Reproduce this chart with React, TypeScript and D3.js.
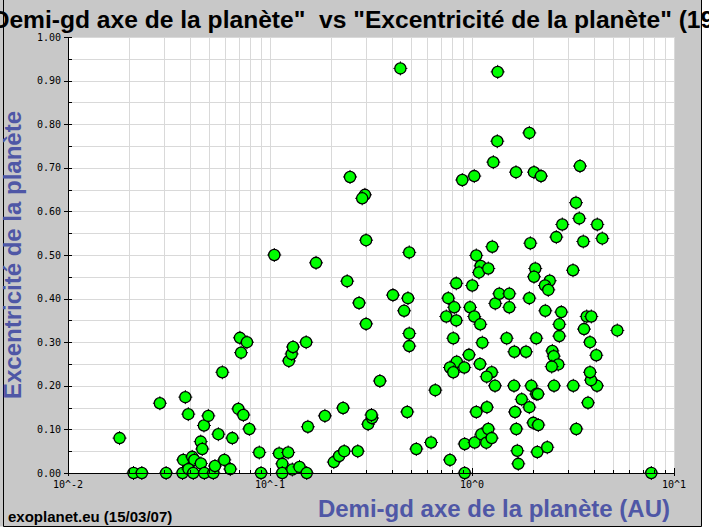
import React from 'react';
import * as d3 from 'd3';

// Semi-major axis (AU) and eccentricity
const semiMajorAxis = [
  0.0180, 0.0211, 0.0232, 0.0285, 0.0306, 0.0381, 0.0394, 0.0372, 0.0369, 0.0412,
  0.0422, 0.0395, 0.0417, 0.0455, 0.0454, 0.0462, 0.0471, 0.0473, 0.0495, 0.0524,
  0.0534, 0.0555, 0.0581, 0.0594, 0.0636, 0.0651, 0.0697, 0.0738, 0.0710, 0.0719,
  0.0769, 0.0790, 0.0885, 0.0903, 0.105, 0.111, 0.115, 0.115, 0.123, 0.129,
  0.140, 0.152, 0.124, 0.128, 0.130, 0.151, 0.169, 0.154, 0.187, 0.207,
  0.220, 0.233, 0.272, 0.230, 0.249, 0.241, 0.276, 0.295, 0.286, 0.299,
  0.299, 0.306, 0.320, 0.318, 0.350, 0.442, 0.406, 0.482, 0.461, 0.489,
  0.489, 0.489, 0.478, 0.530, 0.627, 0.658, 0.778, 0.920, 0.920, 0.895,
  0.763, 0.746, 0.836, 0.836, 0.817, 0.808, 0.840, 0.778, 0.808, 0.916,
  0.966, 0.978, 1.003, 1.026, 1.050, 1.104, 1.083, 1.204, 1.099, 1.125,
  1.095, 1.252, 1.182, 1.300, 1.050, 1.186, 1.031, 1.112, 1.204, 1.177,
  1.252, 1.260, 1.304, 1.365, 1.530, 1.530, 1.485, 1.340, 1.334, 1.275,
  1.026, 1.620, 1.851, 1.614, 1.633, 1.657, 1.676, 1.695, 1.762, 1.922,
  2.011, 2.129, 2.105, 2.359, 1.966, 2.081, 2.121, 2.547, 3.173, 3.283,
  3.752, 4.158, 3.882, 3.838, 4.124, 3.838, 3.585, 5.240, 3.697, 3.895,
  2.705, 2.705, 2.768, 2.306, 2.081, 2.498, 2.539, 2.674, 2.481, 1.922,
  1.944, 2.057, 2.027, 3.162, 2.425, 2.298, 2.386, 2.614, 2.799, 3.272,
  3.397, 3.556, 4.172, 4.416, 1.922, 1.651, 2.027, 2.196, 3.425, 7.72,
];

const eccentricity = [
  0.080, 0, 0, 0.160, 0, 0.174, 0.135, 0.030, 0, 0.037,
  0.030, 0.009, 0, 0.022, 0.072, 0.055, 0.109, 0, 0.131, 0,
  0.016, 0.089, 0.231, 0.030, 0.009, 0.080, 0.147, 0.133, 0.310, 0.276,
  0.300, 0.101, 0.047, 0, 0.500, 0.045, 0.021, 0, 0.047, 0.008,
  0.014, 0, 0.257, 0.273, 0.289, 0.300, 0.482, 0.106, 0.131, 0.025,
  0.039, 0.050, 0.050, 0.149, 0.679, 0.440, 0.390, 0.638, 0.630, 0.534,
  0.342, 0.112, 0.126, 0.133, 0.211, 0.928, 0.408, 0.401, 0.372, 0.320,
  0.291, 0.506, 0.140, 0.055, 0.070, 0.190, 0.030, 0, 0.0665, 0.672,
  0.401, 0.359, 0.350, 0.435, 0.380, 0.309, 0.255, 0.242, 0.231, 0.242,
  0.271, 0.380, 0.430, 0.359, 0.499, 0.475, 0.460, 0.469, 0.341, 0.299,
  0.250, 0.231, 0.221, 0.200, 0.140, 0.151, 0.070, 0.089, 0.101, 0.0695,
  0.080, 0.519, 0.389, 0.411, 0.411, 0.380, 0.309, 0.920, 0.761, 0.713,
  0.681, 0.278, 0.278, 0.200, 0.140, 0.101, 0.051, 0.021, 0.169, 0.151,
  0.115, 0.110, 0.048, 0.059, 0.200, 0.181, 0.181, 0.200, 0.200, 0.101,
  0.161, 0.200, 0.213, 0.231, 0.270, 0.300, 0.330, 0.327, 0.359, 0.359,
  0.314, 0.341, 0.369, 0.372, 0.309, 0.280, 0.268, 0.249, 0.244, 0.401,
  0.527, 0.469, 0.450, 0.465, 0.441, 0.430, 0.420, 0.541, 0.570, 0.620,
  0.584, 0.531, 0.570, 0.538, 0.780, 0.690, 0.690, 0.681, 0.704, 0,
];

const xDecades = [0.01, 0.1, 1, 10];
const xTickLabels = ['10^-2', '10^-1', '10^0', '10^1'];
const yTickValues = [0, 0.1, 0.2, 0.3, 0.4, 0.5, 0.6, 0.7, 0.8, 0.9, 1.0];
const yTickLabels = ['0.00', '0.10', '0.20', '0.30', '0.40', '0.50', '0.60', '0.70', '0.80', '0.90', '1.00'];

const titleText = '"Demi-gd axe de la planète"  vs "Excentricité de la planète" (1995-2007)';
const xAxisTitle = 'Demi-gd axe de la planète (AU)';
const yAxisTitle = 'Excentricité de la planète';
const footerText = 'exoplanet.eu (15/03/07)';

export default function App() {
  const W = 709, H = 529;
  const left = 68, right = 674, top = 37, bottom = 473;
  const x = d3.scaleLog().domain([0.01, 10]).range([left, right]);
  const y = d3.scaleLinear().domain([0, 1]).range([bottom, top]);

  const xMinor: number[] = [];
  for (let d = 0; d < 3; d++) {
    for (let k = 2; k <= 9; k++) xMinor.push(xDecades[d] * k);
  }
  const yGrid = d3.range(0, 21).map((i) => i * 0.05);
  const yMinor = yGrid.filter((_, i) => i % 2 === 1);

  const blue = '#4f57a6';
  const points = semiMajorAxis.map((a, i) => ({ a, e: eccentricity[i] }));

  return (
    <svg width={W} height={H} style={{ position: 'absolute', left: 0, top: 0 }}
      fontFamily="'Liberation Sans', Arial, sans-serif">
      <rect x={0} y={0} width={W} height={H} fill="#ffffff" />
      <rect x={0} y={0} width={702} height={526.5} fill="#c8c8c8" />
      <path d="M3.5,0 V526.5 H701.5 V0" fill="none" stroke="#000" strokeWidth={1} />

      {/* plot area */}
      <rect x={left} y={top} width={right - left} height={bottom - top} fill="#ffffff" />
      <g stroke="#d9d9d9" strokeWidth={1}>
        {xMinor.concat(xDecades).map((v, i) => (
          <line key={'gx' + i} x1={Math.round(x(v)) + 0.5} x2={Math.round(x(v)) + 0.5} y1={top} y2={bottom} />
        ))}
        {yGrid.map((v, i) => (
          <line key={'gy' + i} x1={left} x2={right} y1={Math.round(y(v)) + 0.5} y2={Math.round(y(v)) + 0.5} />
        ))}
      </g>

      {/* markers */}
      <g>
        {points.map((p, i) => {
          const cx = x(p.a), cy = y(p.e);
          return (
            <g key={'p' + i}>
              <line x1={cx - 7} x2={cx + 7} y1={cy} y2={cy} stroke="#000" strokeWidth={1} />
              <line x1={cx} x2={cx} y1={cy - 7} y2={cy + 7} stroke="#000" strokeWidth={1} />
              <circle cx={cx} cy={cy} r={5.6} fill="#00ff00" stroke="#000" strokeWidth={1.3} />
            </g>
          );
        })}
      </g>

      {/* axes */}
      <g stroke="#000" strokeWidth={1}>
        <line x1={left + 0.5} x2={left + 0.5} y1={top} y2={bottom + 0.5} />
        <line x1={left} x2={right + 1} y1={bottom + 0.5} y2={bottom + 0.5} />
        {xMinor.map((v, i) => (
          <line key={'tx' + i} x1={Math.round(x(v)) + 0.5} x2={Math.round(x(v)) + 0.5} y1={bottom - 3} y2={bottom} />
        ))}
        {xDecades.map((v, i) => (
          <line key={'tX' + i} x1={Math.round(x(v)) + 0.5} x2={Math.round(x(v)) + 0.5} y1={bottom - 5} y2={bottom + 3} />
        ))}
        {yMinor.map((v, i) => (
          <line key={'ty' + i} x1={left} x2={left + 4} y1={Math.round(y(v)) + 0.5} y2={Math.round(y(v)) + 0.5} />
        ))}
        {yTickValues.map((v, i) => (
          <line key={'tY' + i} x1={left - 4} x2={left + 4} y1={Math.round(y(v)) + 0.5} y2={Math.round(y(v)) + 0.5} />
        ))}
      </g>

      {/* tick labels */}
      <g fontFamily="'DejaVu Sans Mono', monospace" fontSize={10} fill="#000">
        {yTickValues.map((v, i) => (
          <text key={'ly' + i} x={61} y={y(v)} textAnchor="end" dominantBaseline="central">{yTickLabels[i]}</text>
        ))}
        {xDecades.map((v, i) => (
          <text key={'lx' + i} x={x(v)} y={488} textAnchor="middle">{xTickLabels[i]}</text>
        ))}
      </g>

      {/* titles */}
      <text x={-20} y={28} fontSize={24.6} fontWeight="bold" fill="#000" style={{ whiteSpace: 'pre' }}>{titleText}</text>
      <text transform="translate(21,255) rotate(-90)" textAnchor="middle" fontSize={24} fontWeight="bold" fill={blue}>{yAxisTitle}</text>
      <text x={670} y={517} textAnchor="end" fontSize={24} fontWeight="bold" fill={blue}>{xAxisTitle}</text>
      <text x={8} y={522} fontSize={15} fontWeight="bold" fill="#000">{footerText}</text>
    </svg>
  );
}
